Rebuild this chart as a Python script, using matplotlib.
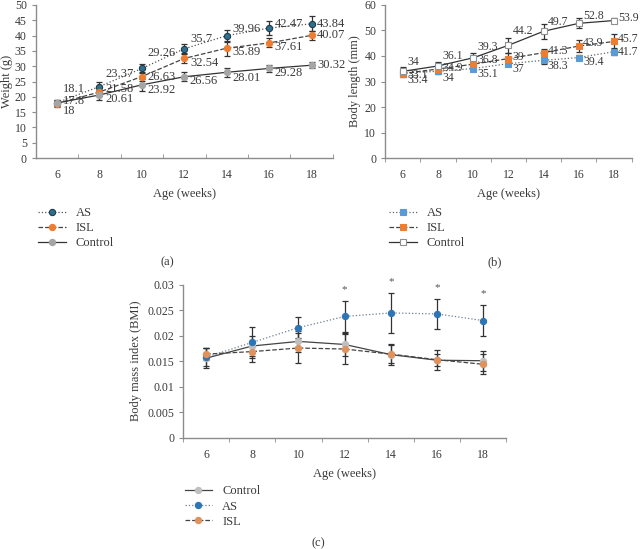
import matplotlib.pyplot as plt
import numpy as np

plt.rcParams['font.family'] = ['Liberation Serif', 'DejaVu Serif']
plt.rcParams['font.size'] = 8.5

weeks = [6, 8, 10, 12, 14, 16, 18]

# (a) weight (g)
w_as = [18.1, 23.37, 29.26, 35.7, 39.96, 42.47, 43.84]
w_isl = [17.8, 21.58, 26.63, 32.54, 35.89, 37.61, 40.07]
w_ctl = [18, 20.61, 23.92, 26.56, 28.01, 29.28, 30.32]
w_as_err = [1.0, 1.5, 1.6, 1.5, 2.0, 2.3, 2.5]
w_isl_err = [1.0, 1.2, 1.5, 1.5, 2.5, 1.5, 1.5]
w_ctl_err = [1.0, 1.5, 2.0, 1.5, 1.5, 1.2, 1.0]

# (b) body length (mm)
l_as = [33.4, 34, 35.1, 37, 38.3, 39.4, 41.7]
l_isl = [33.1, 34.9, 36.8, 39, 41.3, 43.9, 45.7]
l_ctl = [34, 36.1, 39.3, 44.2, 49.7, 52.8, 53.9]
l_as_err = [1.0, 1.0, 1.0, 1.0, 1.5, 1.0, 1.5]
l_isl_err = [1.5, 1.0, 2.0, 2.0, 1.5, 2.5, 3.0]
l_ctl_err = [1.5, 1.5, 2.0, 3.0, 3.0, 2.0, 1.0]

# (c) BMI
b_ctl = [0.0156, 0.0180, 0.0189, 0.0183, 0.0163, 0.0152, 0.0151]
b_as = [0.0158, 0.0187, 0.0216, 0.0238, 0.0245, 0.0243, 0.0230]
b_isl = [0.0164, 0.0169, 0.0176, 0.0174, 0.0164, 0.0153, 0.0144]
b_ctl_err = [0.0020, 0.0020, 0.0020, 0.0023, 0.0020, 0.0020, 0.0020]
b_as_err = [0.0018, 0.0030, 0.0020, 0.0030, 0.0040, 0.0030, 0.0030]
b_isl_err = [0.0012, 0.0020, 0.0030, 0.0030, 0.0018, 0.0012, 0.0020]
sig_weeks = [12, 14, 16, 18]

txt = '#3a3a3a'
ax_col = '#8c8c8c'


def style_axis(ax, ylim, yticks, tickdir):
    ax.set_xlim(5, 19)
    ax.set_ylim(*ylim)
    ax.set_xticks(weeks)
    ax.set_xticks(np.arange(5, 20, 2), minor=True)
    ax.set_yticks(yticks)
    ax.tick_params(axis='x', which='major', length=0, pad=8, colors=txt)
    ax.tick_params(axis='x', which='minor', length=3, direction=tickdir, color=ax_col)
    ax.tick_params(axis='y', length=3, direction='out', color=ax_col, colors=txt)
    ax.tick_params(axis='y', color=ax_col)
    for s in ['top', 'right']:
        ax.spines[s].set_visible(False)
    for s in ['left', 'bottom']:
        ax.spines[s].set_color(ax_col)
        ax.spines[s].set_linewidth(1.0)
    ax.set_xlabel('Age (weeks)', color=txt, labelpad=5, fontsize=9)


def series(ax, y, err, ls, mk, mfc, mec, lc, label, ms=4.5):
    ax.errorbar(weeks, y, yerr=err, fmt='none', ecolor='#333333', elinewidth=0.9,
                capsize=2, capthick=0.9, zorder=2)
    ax.plot(weeks, y, linestyle=ls, color=lc, lw=0.9, marker=mk, ms=ms,
            mfc=mfc, mec=mec, mew=0.8, label=label, zorder=3)


def labels(ax, y, dys, dx=4, size=9):
    for x, v, dy in zip(weeks, y, dys):
        ax.annotate(f'{v:g}', (x, v), xytext=(dx, dy), textcoords='offset points',
                    ha='left', va='center', fontsize=size, color=txt, zorder=4)


def legend(ax, y0):
    ax.legend(loc='upper left', bbox_to_anchor=(-0.03, y0), frameon=False,
              handlelength=2.2, labelspacing=0.25, handletextpad=0.8, fontsize=9,
              labelcolor=txt)


fig = plt.figure(figsize=(6.4, 5.49), dpi=100)

# ---- (a)
ax1 = fig.add_axes([0.056, 0.712, 0.464, 0.279])
series(ax1, w_as, w_as_err, ':', 'o', '#2e6f8e', '#1d3d50', '#555555', 'AS')
series(ax1, w_isl, w_isl_err, '--', 'o', '#ed7d31', '#ed7d31', '#444444', 'ISL')
series(ax1, w_ctl, w_ctl_err, '-', 'o', '#a5a5a5', '#a5a5a5', '#333333', 'Control')
labels(ax1, w_as, [10, 9, 11, 7, 5, 3, 0])
labels(ax1, w_isl, [2, 2, 0, -3, -3, -3, 0])
labels(ax1, w_ctl, [-6, -3, -4, -3, -4, -3, 0])
style_axis(ax1, (0, 50), range(0, 51, 5), 'in')
ax1.set_ylabel('Weight (g)', color=txt, labelpad=1, fontsize=9)
legend(ax1, -0.245)
fig.text(0.262, 0.523, '(a)', ha='center', va='center', color=txt, fontsize=9)

# ---- (b)
ax2 = fig.add_axes([0.602, 0.712, 0.385, 0.279])
series(ax2, l_as, l_as_err, ':', 's', '#5b9bd5', '#5b9bd5', '#666666', 'AS', ms=4)
series(ax2, l_isl, l_isl_err, '--', 's', '#ed7d31', '#ed7d31', '#444444', 'ISL', ms=4)
series(ax2, l_ctl, l_ctl_err, '-', 's', 'white', '#909090', '#333333', 'Control', ms=4)
labels(ax2, l_ctl, [7, 7, 8, 10, 7, 5, 2], dx=3, size=8.5)
labels(ax2, l_isl, [-1, 1, 3, 1, 1, 2, 2], dx=3, size=8.5)
labels(ax2, l_as, [-5, -5, -4, -4, -4, -3, 0], dx=3, size=8.5)
style_axis(ax2, (0, 60), range(0, 61, 10), 'out')
ax2.set_ylabel('Body length (mm)', color=txt, labelpad=2, fontsize=9)
legend(ax2, -0.245)
fig.text(0.773, 0.523, '(b)', ha='center', va='center', color=txt, fontsize=9)

# ---- (c)
ax3 = fig.add_axes([0.286, 0.203, 0.505, 0.278])
series(ax3, b_ctl, b_ctl_err, '-', 'o', '#bfbfbf', '#bfbfbf', '#444444', 'Control')
series(ax3, b_as, b_as_err, ':', 'o', '#2e75b6', '#2e75b6', '#6f7f90', 'AS')
series(ax3, b_isl, b_isl_err, '--', 'o', '#e0915c', '#e0915c', '#444444', 'ISL')
for x in sig_weeks:
    i = weeks.index(x)
    ax3.annotate('*', (x, b_as[i] + b_as_err[i]), xytext=(0, 5), textcoords='offset points',
                 ha='center', va='bottom', fontsize=8, color='#555555')
style_axis(ax3, (0, 0.03), [0, 0.005, 0.01, 0.015, 0.02, 0.025, 0.03], 'out')
ax3.set_yticklabels(['0', '0.005', '0.01', '0.015', '0.02', '0.025', '0.03'])
ax3.set_ylabel('Body mass index (BMI)', color=txt, labelpad=4, fontsize=9)
legend(ax3, -0.24)
fig.text(0.497, 0.011, '(c)', ha='center', va='center', color=txt, fontsize=9)

fig.savefig('out.png', dpi=100)
